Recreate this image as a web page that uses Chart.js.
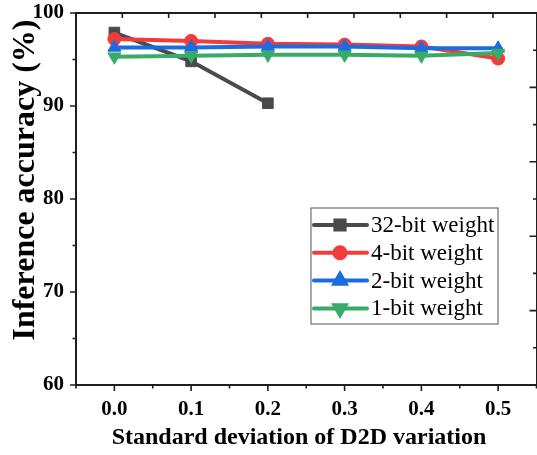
<!DOCTYPE html>
<html>
<head>
<meta charset="utf-8">
<script src="https://cdn.jsdelivr.net/npm/chart.js@4.4.1/dist/chart.umd.min.js"></script>
<style>
  html, body { margin: 0; padding: 0; background: #fff; overflow: hidden; width: 537px; height: 455px; }
  #wrap { position: absolute; left: 0; top: 0; width: 545px; height: 455px; }
</style>
</head>
<body>
<div id="wrap"><canvas id="c" width="545" height="455"></canvas></div>
<script>
// ---- data ----
const xValues = [0.0, 0.1, 0.2, 0.3, 0.4, 0.5];
const seriesNames = ['32-bit weight', '4-bit weight', '2-bit weight', '1-bit weight'];
const acc32bit = [97.9, 94.8, 90.3];
const acc4bit  = [97.2, 97.0, 96.7, 96.6, 96.4, 95.1];
const acc2bit  = [96.3, 96.3, 96.4, 96.4, 96.2, 96.2];
const acc1bit  = [95.3, 95.4, 95.5, 95.5, 95.4, 95.7];
const yTickLabels = [60, 70, 80, 90, 100];
const xTickLabels = ['0.0', '0.1', '0.2', '0.3', '0.4', '0.5'];
const xTitle = 'Standard deviation of D2D variation';
const yTitle = 'Inference accuracy (%)';

const colors = ['#4a4a4a', '#f23c3c', '#1b6ce0', '#38ab68'];
const styles = ['rect', 'circle', 'triangle', 'triangle'];
const rotations = [0, 0, 0, 180];
const radii = [7.5, 6.5, 7.5, 7.5];
const allSeries = [acc32bit, acc4bit, acc2bit, acc1bit];

const toPts = arr => arr.map((v, i) => ({ x: xValues[i], y: v }));

const datasets = allSeries.map((arr, k) => ({
  label: seriesNames[k],
  data: toPts(arr),
  borderColor: colors[k],
  backgroundColor: colors[k],
  pointBackgroundColor: colors[k],
  pointBorderColor: colors[k],
  borderWidth: 4,
  pointStyle: styles[k],
  pointRotation: rotations[k],
  pointRadius: radii[k],
  pointBorderWidth: 1,
  tension: 0,
  order: 4 - k,
  xAxisID: 'x',
  yAxisID: 'y'
}));

const serifBold = (s) => ({ family: '"Liberation Serif", "Times New Roman", serif', size: s, weight: 'bold' });
const AXIS_COLOR = '#1e1e1e';
const noPad = s => { s.paddingLeft = 0; s.paddingRight = 0; s.paddingTop = 0; s.paddingBottom = 0; };

const tickPlugin = {
  id: 'tickMarks',
  afterDraw(chart) {
    const ctx = chart.ctx;
    const ca = chart.chartArea;
    const sx = chart.scales.x, sy = chart.scales.y, sx2 = chart.scales.x2, sy2 = chart.scales.y2;
    ctx.save();
    ctx.strokeStyle = AXIS_COLOR;
    ctx.lineWidth = 1.6;
    ctx.beginPath();
    // bottom ticks (outward)
    sx.ticks.forEach(t => {
      const p = sx.getPixelForValue(t.value);
      const major = Math.abs(Math.round(t.value * 20)) % 2 === 0;
      const len = major ? 6 : 3.5;
      ctx.moveTo(p, ca.bottom); ctx.lineTo(p, ca.bottom + len);
    });
    // left ticks (outward)
    sy.ticks.forEach(t => {
      const p = sy.getPixelForValue(t.value);
      const major = Math.round(t.value) % 10 === 0;
      const len = major ? 6 : 3.5;
      ctx.moveTo(ca.left, p); ctx.lineTo(ca.left - len, p);
    });
    // top ticks (inward)
    sx2.ticks.forEach(t => {
      if (t.value <= sx2.min || t.value >= sx2.max) return;
      const p = sx2.getPixelForValue(t.value);
      ctx.moveTo(p, ca.top); ctx.lineTo(p, ca.top + 5);
    });
    // right ticks (inward)
    sy2.ticks.forEach(t => {
      if (t.value <= sy2.min || t.value >= sy2.max) return;
      const p = sy2.getPixelForValue(t.value);
      const major = Math.round(t.value) % 2 === 0;
      const len = major ? 7 : 3.5;
      ctx.moveTo(ca.right, p); ctx.lineTo(ca.right - len, p);
    });
    ctx.stroke();

    // axis titles
    ctx.fillStyle = '#000';
    ctx.textAlign = 'center';
    ctx.textBaseline = 'middle';
    ctx.font = 'bold 24px "Liberation Serif", serif';
    ctx.fillText(xTitle, ca.left + 223, ca.bottom + 53);
    ctx.save();
    ctx.translate(26, ca.top + 167);
    ctx.rotate(-Math.PI / 2);
    ctx.font = 'bold 32px "Liberation Serif", serif';
    ctx.fillText(yTitle, 0, 0);
    ctx.restore();

    // legend box
    const bx = ca.left + 235, by = ca.top + 195, bw = 187, bh = 116;
    ctx.fillStyle = '#fff';
    ctx.fillRect(bx, by, bw, bh);
    ctx.strokeStyle = '#6e6e6e';
    ctx.lineWidth = 1.2;
    ctx.strokeRect(bx, by, bw, bh);
    chart.data.datasets.forEach((ds, i) => {
      const cy = by + 17 + i * 27.8;
      ctx.strokeStyle = ds.borderColor;
      ctx.lineWidth = 4;
      ctx.lineCap = 'round';
      ctx.beginPath();
      ctx.moveTo(bx + 3, cy); ctx.lineTo(bx + 56, cy);
      ctx.stroke();
      Chart.helpers.drawPoint(ctx, {
        pointStyle: ds.pointStyle, rotation: ds.pointRotation, radius: ds.pointRadius - 1, borderWidth: 1
      }, bx + 29, cy);
      ctx.fillStyle = ds.borderColor;
      ctx.fill();
      ctx.fillStyle = '#000';
      ctx.textAlign = 'left';
      ctx.font = '23px "Liberation Serif", serif';
      ctx.fillText(ds.label, bx + 60, cy + 1);
    });
    ctx.restore();
  }
};

new Chart(document.getElementById('c'), {
  type: 'line',
  data: { datasets },
  options: {
    responsive: false,
    animation: false,
    layout: { padding: 0 },
    plugins: { legend: { display: false }, tooltip: { enabled: false } },
    scales: {
      x: {
        type: 'linear', position: 'bottom', min: -0.05, max: 0.55,
        afterFit: s => { s.height = 70; noPad(s); },
        grid: { display: false, drawTicks: false },
        border: { display: true, color: AXIS_COLOR, width: 2 },
        ticks: {
          stepSize: 0.05, padding: 12, color: '#000', font: serifBold(21), autoSkip: false, maxRotation: 0,
          callback: v => {
            const k = Math.round(v * 20);
            if (k % 2 !== 0 || k < 0 || k > 10) return '';
            return xTickLabels[k / 2];
          }
        }
      },
      x2: {
        type: 'linear', position: 'top', min: 0, max: 9.94,
        afterFit: s => { s.height = 13; noPad(s); },
        grid: { display: false, drawTicks: false },
        border: { display: true, color: AXIS_COLOR, width: 2 },
        ticks: { display: false, stepSize: 1 }
      },
      y: {
        type: 'linear', position: 'left', min: 60, max: 100,
        afterFit: s => { s.width = 76; noPad(s); },
        grid: { display: false, drawTicks: false },
        border: { display: true, color: AXIS_COLOR, width: 2 },
        ticks: {
          stepSize: 5, padding: 12, color: '#000', font: serifBold(21), autoSkip: false,
          callback: v => (yTickLabels.includes(v) ? String(v) : '')
        }
      },
      y2: {
        type: 'linear', position: 'right', min: 0, max: 10,
        afterFit: s => { s.width = 5; noPad(s); },
        grid: { display: false, drawTicks: false },
        border: { display: true, color: AXIS_COLOR, width: 2 },
        ticks: { display: false, stepSize: 1 }
      }
    }
  },
  plugins: [tickPlugin]
});
</script>
</body>
</html>
